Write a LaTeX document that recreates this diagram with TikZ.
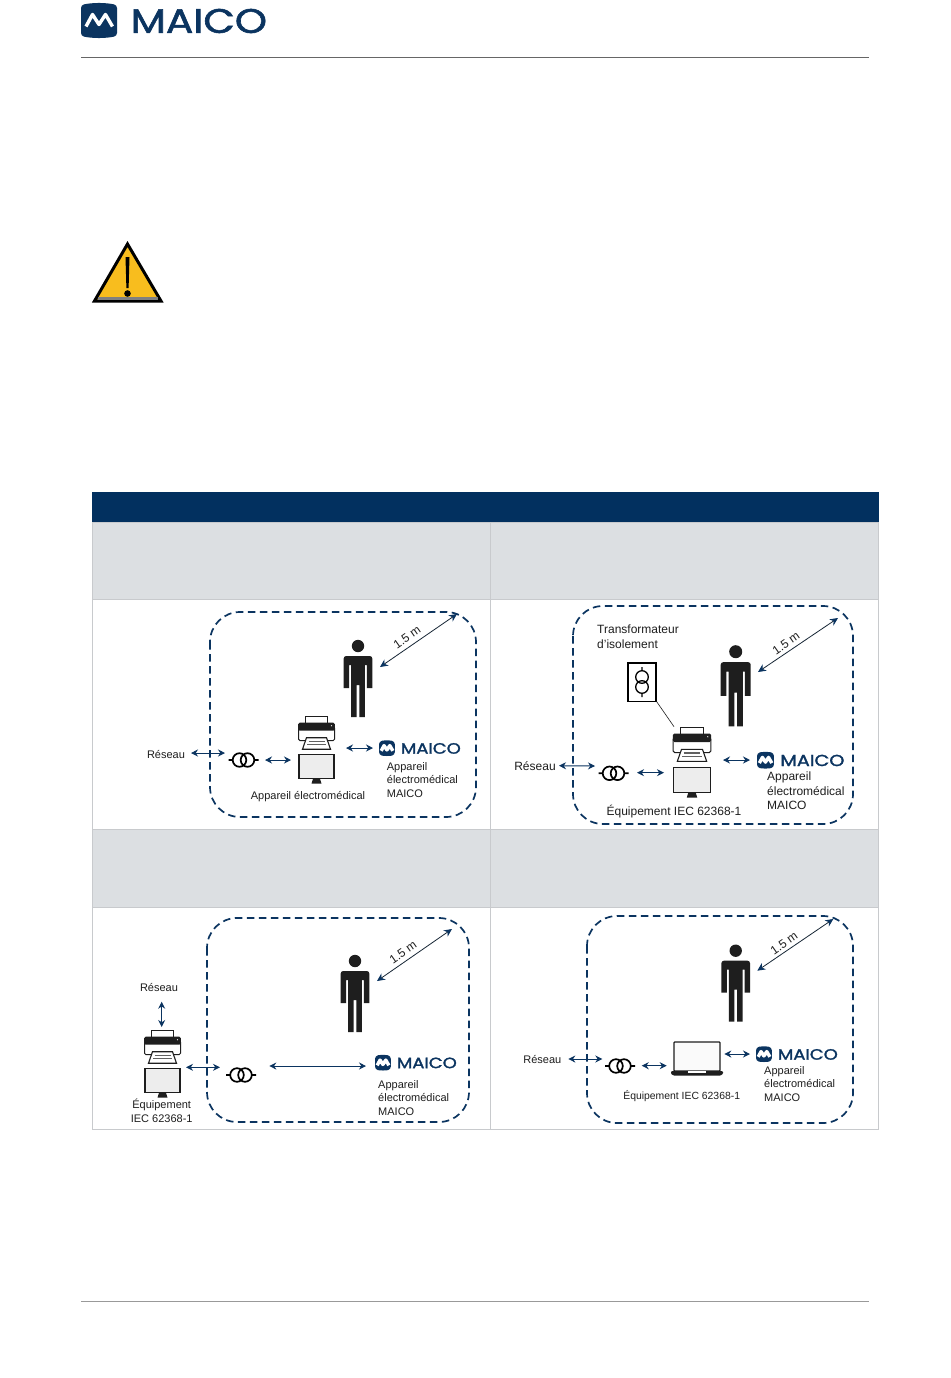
\documentclass[tikz,border=0pt]{standalone}
\usepackage{fontspec}
\setmainfont{Liberation Sans}
\newfontfamily\logofont[FakeBold=1.6]{Poppins}
\usetikzlibrary{arrows.meta}
\definecolor{navy}{HTML}{0B3460}
\definecolor{headnavy}{HTML}{02305F}
\definecolor{rowgrey}{HTML}{DCDFE2}
\definecolor{gridgrey}{HTML}{C8CACD}
\definecolor{ink}{HTML}{1E1E1E}
\definecolor{warn}{HTML}{F8BD1E}
\tikzset{
  x=1pt,y=-1pt,
  zone/.style={draw=navy,line width=1.7pt,dash pattern=on 7.5pt off 4.5pt,rounded corners=30pt},
  link/.style={navy,line width=1pt,{Stealth[length=7pt,width=7pt]}-{Stealth[length=7pt,width=7pt]}},
  span/.style={ink!65!navy,line width=0.8pt,{Stealth[length=8pt,width=7.5pt,color=navy]}-{Stealth[length=8pt,width=7.5pt,color=navy]}},
  lbl/.style={text=ink,font=\fontsize{11}{13.6}\selectfont,inner sep=0pt,align=left},
  lblb/.style={text=ink,font=\fontsize{12}{14.6}\selectfont,inner sep=0pt,align=left},
  lblc/.style={text=ink,font=\fontsize{10.4}{13}\selectfont,inner sep=0pt},
  dist/.style={text=ink,font=\fontsize{12}{14}\selectfont,inner sep=0pt,rotate=35},
  pics/person/.style={code={
    \fill[ink] (0,0) circle (6.2);
    \fill[ink] (-14.3,42) [rounded corners=2.5]-- (-14.3,10) -- (14.3,10) [sharp corners]-- (14.3,42) -- (8.8,42) -- (8.8,19) -- (6.8,19) -- (6.8,71) -- (1.3,71) -- (1.3,39) -- (-1.3,39) -- (-1.3,71) -- (-6.8,71) -- (-6.8,19) -- (-8.8,19) -- (-8.8,42) -- cycle;
  }},
  pics/printer/.style={code={
    \draw[ink,line width=.7pt,fill=white] (-10.7,0) rectangle (10.7,7);
    \draw[ink,line width=1pt,fill=white,rounded corners=1.5] (-18,10) rectangle (18,24);
    \fill[ink,rounded corners=1.5] (-18.3,6) rectangle (18.3,14);
    \fill[white] (15,9) circle (.7);
    \draw[ink,line width=1.1pt,fill=white] (-10,21) -- (10,21) -- (14,32.5) -- (-14,32.5) -- cycle;
    \draw[ink!70,line width=1.1pt] (-8,24.5) -- (8,24.5) (-9.5,28) -- (9.5,28);
    \draw[ink,line width=1.3pt,fill=black!7] (-17.5,38) rectangle (17.5,62);
    \fill[ink] (-3.5,62) -- (3.5,62) -- (5,67) -- (-5,67) -- cycle;
  }},
  pics/trafo/.style={code={
    \draw[black,line width=1.7pt] (-15,0) -- (-11,0) (-4,0) circle (6.8) (4,0) circle (6.8) (11,0) -- (15,0);
  }},
  pics/maico/.style={code={
    \fill[navy,rounded corners=3] (0,2) .. controls (12,-.5) and (24,-.5) .. (36,2) -- (36,33) .. controls (24,35.5) and (12,35.5) .. (0,33) -- cycle;
    \draw[white,line width=3.4pt,line join=round] (5,23.5) -- (11.5,11.5) -- (18,21.5) -- (24.5,11.5) -- (31.5,23.5);
    \node[transform shape,anchor=west,inner sep=0pt,text=navy,xscale=1.2,font=\logofont\fontsize{34}{36}\selectfont] at (49.5,18) {MAICO};
  }}
}
\begin{document}
\begin{tikzpicture}
\path[use as bounding box,fill=white] (0,0) rectangle (950,1378);

% page furniture
\pic at (81,3) {maico};
\coordinate (ruleTopL) at (81,57); \coordinate (ruleTopR) at (869,57);
\draw[black!60,line width=.8pt] (ruleTopL) -- (ruleTopR);
\coordinate (ruleBotL) at (81,1301); \coordinate (ruleBotR) at (869,1301);
\draw[black!40,line width=.8pt] (ruleBotL) -- (ruleBotR);

% warning sign
\fill[warn,draw=black,line width=3pt,line join=miter] (127.5,244) -- (161,301) -- (94.5,301) -- cycle;
\fill[black!50] (98,296.5) rectangle (157.5,299.5);
\fill[black] (125.5,257) -- (129.5,257) -- (128.6,288) -- (126.4,288) -- cycle;
\fill[black] (127.5,293.5) circle (3.3);

% table
\fill[headnavy] (92,492) rectangle (879,522);
\fill[rowgrey] (92,522) rectangle (879,599);
\fill[rowgrey] (92,829) rectangle (879,907);
\draw[gridgrey,line width=.8pt] (92,522) rectangle (878.5,1129.5);
\draw[gridgrey,line width=.8pt] (92,829) -- (879,829) (92,907) -- (879,907) (92,599) -- (879,599);
\draw[gridgrey,line width=.8pt] (490.5,522) -- (490.5,1129.5);

% ---------- panel A
\draw[zone] (210,612) rectangle (476,817);
\pic at (358,646) {person};
\coordinate (a1) at (380,667); \coordinate (a2) at (457,614);
\draw[span] (a1) -- (a2);
\node[dist] (ad) at (407,637.5) {1.5 m};
\pic at (316.5,716.7) {printer};
\pic at (243.5,760) {trafo};
\node[lbl] (ar) at (166,754) {Réseau};
\coordinate (a3) at (191,753); \coordinate (a4) at (225,753);
\draw[link] (a3) -- (a4);
\coordinate (a5) at (265,760); \coordinate (a6) at (291,760);
\draw[link] (a5) -- (a6);
\coordinate (a7) at (346,748); \coordinate (a8) at (373,748);
\draw[link] (a7) -- (a8);
\pic[scale=.44] at (379,740.5) {maico};
\node[lbl,anchor=west] (at1) at (386.7,780) {Appareil\\électromédical\\MAICO};
\node[lbl] (at2) at (308,797) {Appareil électromédical};

% ---------- panel B
\draw[zone] (573,606) rectangle (853,824);
\pic[scale=1.05] at (735.7,651.7) {person};
\coordinate (b1) at (758,672); \coordinate (b2) at (838,618);
\draw[span] (b1) -- (b2);
\node[dist] (bd) at (786,643.5) {1.5 m};
\node[lblb,anchor=west] (bt) at (597,636.5) {Transformateur\\d’isolement};
\draw[black,line width=1.4pt] (628,663) rectangle (656,701.5);
\draw[black,line width=1.3pt] (642,667) -- (642,671) (642,677) circle (6.3) (642,687) circle (6.3) (642,693) -- (642,697);
\coordinate (b3) at (656.7,701.7); \coordinate (b4) at (674,726.7);
\draw[ink,line width=.6pt] (b3) -- (b4);
\pic[scale=1.05] at (692,727.3) {printer};
\pic at (613.5,773.3) {trafo};
\node[lblb] (br) at (535,765.7) {Réseau};
\coordinate (b5) at (559,765.7); \coordinate (b6) at (595,766);
\draw[link] (b5) -- (b6);
\coordinate (b7) at (637,772.7); \coordinate (b8) at (664,772.7);
\draw[link] (b7) -- (b8);
\coordinate (b9) at (723,760); \coordinate (b10) at (750,760);
\draw[link] (b9) -- (b10);
\pic[scale=.47] at (757,752) {maico};
\node[lblb,anchor=west] (bt1) at (767,791) {Appareil\\électromédical\\MAICO};
\node[lblb] (bt2) at (674,811.7) {Équipement IEC 62368-1};

% ---------- panel C
\draw[zone] (207,918) rectangle (469,1122);
\pic at (355,961) {person};
\coordinate (c1) at (377,981); \coordinate (c2) at (452,929);
\draw[span] (c1) -- (c2);
\node[dist] (cd) at (403,952.5) {1.5 m};
\node[lbl] (cr) at (159,987) {Réseau};
\coordinate (c3) at (161.7,1001.7); \coordinate (c4) at (161.7,1027);
\draw[link] (c3) -- (c4);
\pic at (162.5,1030.7) {printer};
\coordinate (c5) at (186,1067.3); \coordinate (c6) at (220,1067.3);
\draw[link] (c5) -- (c6);
\pic at (241,1075) {trafo};
\coordinate (c7) at (269.3,1066); \coordinate (c8) at (366,1066);
\draw[link] (c7) -- (c8);
\pic[scale=.44] at (375,1055) {maico};
\node[lbl,anchor=west] (ct1) at (378,1098) {Appareil\\électromédical\\MAICO};
\node[lbl,align=center] (ct2) at (161.7,1111) {Équipement\\IEC 62368-1};

% ---------- panel D
\draw[zone] (587,916) rectangle (853,1123);
\pic at (735.7,950.7) {person};
\coordinate (d1) at (757.3,970.7); \coordinate (d2) at (833.3,919);
\draw[span] (d1) -- (d2);
\node[dist] (dd) at (784,943.5) {1.5 m};
\node[lbl] (dr) at (542.3,1059) {Réseau};
\coordinate (d3) at (568.3,1059); \coordinate (d4) at (602.3,1059);
\draw[link] (d3) -- (d4);
\pic at (620,1066) {trafo};
\coordinate (d5) at (641.7,1065.7); \coordinate (d6) at (666.7,1065.7);
\draw[link] (d5) -- (d6);
\draw[ink,line width=1.3pt,fill=black!2,rounded corners=.8] (674,1042) rectangle (720,1071);
\fill[ink,rounded corners=1] (671,1071) -- (723,1071) -- (723,1074) -- (720,1075.7) -- (674,1075.7) -- (671,1074) -- cycle;
\fill[white] (688,1071) rectangle (706,1072.5);
\coordinate (d7) at (724.3,1054); \coordinate (d8) at (750,1054);
\draw[link] (d7) -- (d8);
\pic[scale=.44] at (756,1046.5) {maico};
\node[lbl,anchor=west] (dt1) at (764,1084) {Appareil\\électromédical\\MAICO};
\node[lblc] (dt2) at (681.7,1095.7) {Équipement IEC 62368-1};
\end{tikzpicture}
\end{document}
